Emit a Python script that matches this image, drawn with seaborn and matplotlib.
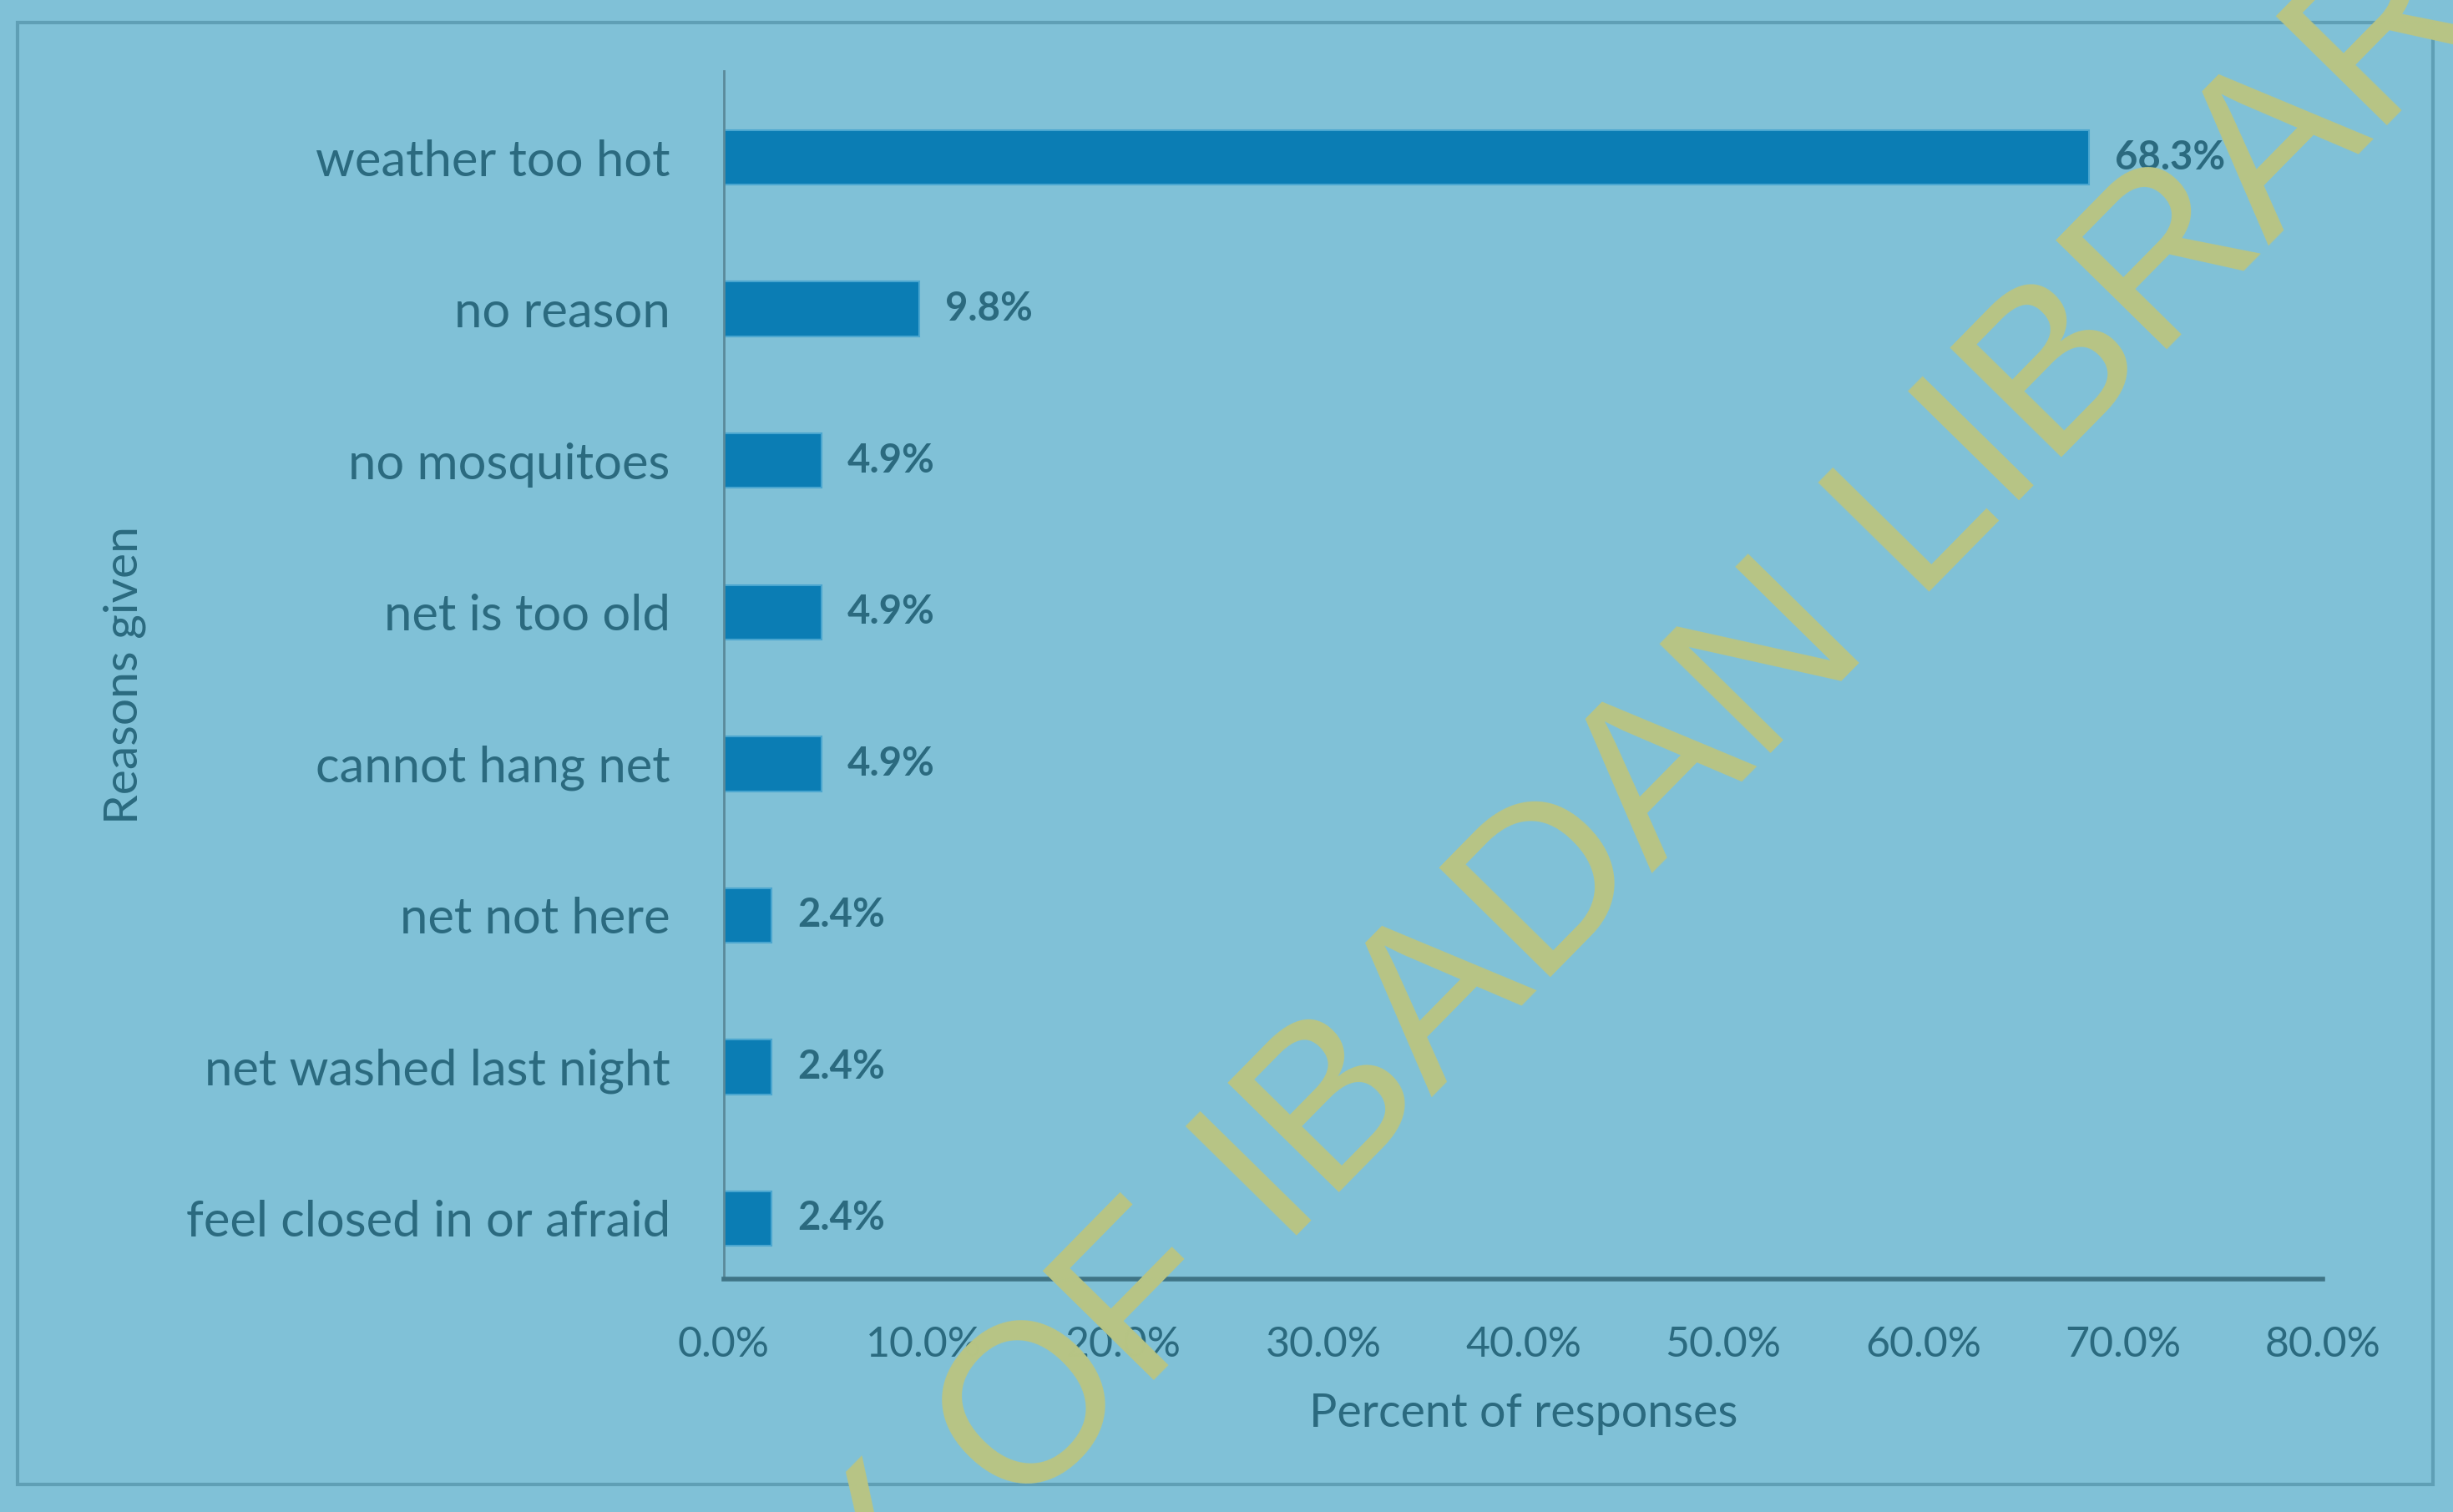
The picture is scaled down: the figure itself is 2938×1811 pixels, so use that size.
import numpy as np
import pandas as pd
import seaborn as sns
import matplotlib.pyplot as plt
from matplotlib.patches import Rectangle

reasons = ["weather too hot", "no reason", "no mosquitoes", "net is too old",
           "cannot hang net", "net not here", "net washed last night",
           "feel closed in or afraid"]
percent = [68.3, 9.8, 4.9, 4.9, 4.9, 2.4, 2.4, 2.4]
x_ticks = [0, 10, 20, 30, 40, 50, 60, 70, 80]

bg = "#80c1d7"
bar_color = "#0b7db4"
text_color = "#2b6a7f"

sns.set_style("white")
plt.rcParams['font.family'] = ['Lato', 'DejaVu Sans']

df = pd.DataFrame({"reason": reasons, "percent": percent})

fig = plt.figure(figsize=(29.38, 18.11), dpi=100, facecolor=bg)
ax = fig.add_axes([0.295, 0.154, 0.652, 0.799])
ax.set_facecolor(bg)

sns.barplot(data=df, x="percent", y="reason", color=bar_color, width=0.36,
            saturation=1, edgecolor="#4aa6cf", linewidth=1.5, ax=ax)

ax.set_xlim(0, 80)
ax.set_ylim(7.4, -0.57)
ax.set_xticks(x_ticks)
ax.set_xticklabels([f"{t:.1f}%" for t in x_ticks], fontsize=36, color=text_color)
ax.tick_params(axis="y", labelsize=43, labelcolor=text_color, pad=46, length=0)
ax.tick_params(axis="x", pad=40, length=0)

for i, v in enumerate(percent):
    ax.text(v + 1.3, i, f"{v}%", va="center", ha="left", fontsize=34,
            color=text_color, fontweight="bold")

ax.set_xlabel("Percent of responses", fontsize=40, color=text_color, labelpad=25)
ax.set_ylabel("Reasons given", fontsize=41, color=text_color)
ax.yaxis.set_label_coords(-0.361, 0.5)

for s in ["top", "right"]:
    ax.spines[s].set_visible(False)
ax.spines["left"].set_color("#5a8a9a")
ax.spines["left"].set_linewidth(2)
ax.spines["bottom"].set_color("#3f7486")
ax.spines["bottom"].set_linewidth(4)

# outer frame of the slide
fig.patches.append(Rectangle((0.007, 0.018), 0.985, 0.967, transform=fig.transFigure,
                             fill=False, edgecolor="#5f9fb5", linewidth=3))

# library watermark
fig.text(0.5166, 0.218, "UNIVERSITY OF IBADAN LIBRARY", rotation=45.5,
         rotation_mode="anchor", fontsize=195, color="#b8c585",
         ha="center", va="center", family=["Liberation Sans"])

fig.savefig("out.png", dpi=100, facecolor=bg)
